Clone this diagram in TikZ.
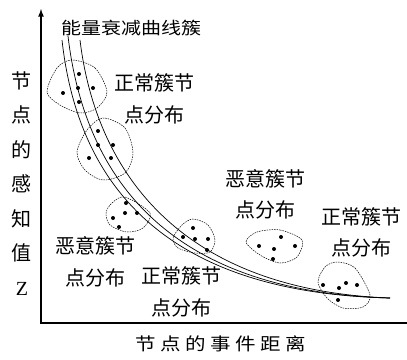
\documentclass[tikz,border=0pt]{standalone}
\usepackage{graphicx}
\usepackage{fontspec}
\setmainfont{Liberation Serif}
\newfontfamily\cjk{Noto Sans CJK SC}
\newfontfamily\cjkwide[LetterSpace=22]{Noto Sans CJK SC}
\begin{document}
\begin{tikzpicture}[x=1pt,y=-1pt]
\tikzstyle{lbl}=[font=\cjk\fontsize{20}{31.5}\selectfont,inner sep=0pt,align=center]
\tikzstyle{blob}=[draw,line width=0.5pt,dash pattern=on 1.5pt off 1pt]
\tikzstyle{curve}=[line width=0.7pt]
\tikzstyle{axis}=[line width=1.6pt,-latex]
\fill[white] (0,0) rectangle (407,359);
\useasboundingbox (0,0) rectangle (407,359);
\coordinate (origin) at (41,323);
\coordinate (ytop) at (41,9);
\coordinate (xend) at (407,323);
\draw[axis] (xend) -- (origin) -- (ytop);
\node[lbl] (title) at (131,28) {\scalebox{1}[0.85]{能量衰减曲线簇}};
\node[lbl,font=\cjkwide\fontsize{20.5}{24}\selectfont] (xlabel) at (221,344) {\scalebox{1}[0.85]{节点的事件距离}};
\node[lbl,font=\cjk\fontsize{20}{34.5}\selectfont] (ylabel) at (22,183.5) {节\\点\\的\\感\\知\\值\\{\rmfamily Z}};
\node[lbl] (normalA) at (154.5,99) {正常簇节\\点分布};
\node[lbl] (badA) at (95.5,262) {恶意簇节\\点分布};
\node[lbl] (normalB) at (181,292) {正常簇节\\点分布};
\node[lbl] (badB) at (265.5,194.5) {恶意簇节\\点分布};
\node[lbl] (normalC) at (361.5,232.5) {正常簇节\\点分布};
\draw[curve] (62,40) .. controls (78,185) and (165,293) .. (390,298);
\draw[curve] (68,36) .. controls (85,180) and (170,292) .. (390,298);
\draw[curve] (80,40) .. controls (96,172) and (180,290) .. (390,298);
\draw[blob] plot[smooth cycle] coordinates {(72,60) (95,68) (107,92) (97,108) (80,113) (60,105) (47,92) (57,68)};
\draw[blob] plot[smooth cycle] coordinates {(103,118) (125,128) (133,153) (125,173) (103,180) (85,170) (77,152) (87,130)};
\draw[blob] plot[smooth cycle] coordinates {(125,197) (150,213) (143,228) (127,232) (110,225) (106,213) (112,203)};
\draw[blob] plot[smooth cycle] coordinates {(193,219) (208,225) (215,240) (210,252) (195,253) (178,248) (173,238) (182,225)};
\draw[blob] plot[smooth cycle] coordinates {(257,232) (280,230) (302,240) (297,257) (280,263) (260,255) (246,242)};
\draw[blob] plot[smooth cycle] coordinates {(337,262) (355,268) (370,295) (363,307) (343,308) (327,298) (318,282) (325,267)};
\foreach \x/\y in {79/74,78/88,93/88,63/93,79/102,
  98/131,98/145,113/145,89/158,111/158,
  126/203,125/213,137/213,113/218,119/227,
  193/228,183/237,195/239,208/239,207/250,
  281/237,259/246,274/249,295/246,273/259,
  323/285,339/288,346/283,357/285,338/300}
  \fill (\x,\y) circle (2pt);
\end{tikzpicture}
\end{document}
